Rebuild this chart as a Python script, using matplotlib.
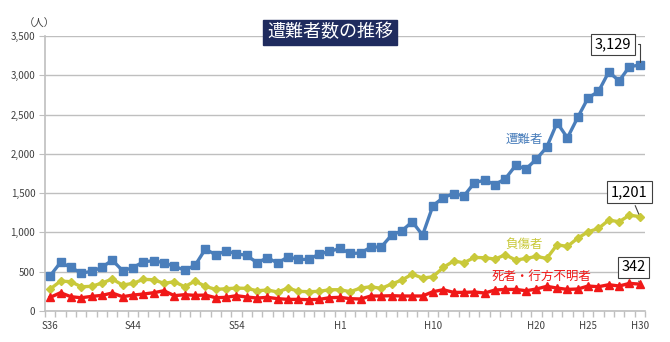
import numpy as np
import matplotlib
matplotlib.use("Agg")
import matplotlib.pyplot as plt

plt.rcParams['font.family'] = ['Noto Sans CJK JP', 'DejaVu Sans']

# S36 (1961) .. H30 (2018)
years = list(range(1961, 2019))
tick_idx = [0, 8, 18, 28, 37, 47, 52, 57]
tick_lbl = ["S36", "S44", "S54", "H1", "H10", "H20", "H25", "H30"]

# 遭難者
victims = [449, 619, 555, 483, 504, 555, 648, 513, 551, 627,
           640, 614, 568, 521, 580, 788, 716, 763, 729, 708,
           614, 678, 610, 691, 657, 657, 725, 758, 797, 733,
           737, 814, 814, 966, 1021, 1136, 966, 1341, 1444, 1494,
           1465, 1631, 1666, 1609, 1684, 1853, 1808, 1933, 2085, 2396,
           2204, 2465, 2713, 2794, 3043, 2929, 3111, 3129]
# 負傷者
injured = [280, 381, 373, 309, 314, 356, 407, 330, 352, 403,
           398, 352, 373, 309, 381, 314, 275, 284, 292, 288,
           258, 267, 242, 292, 250, 246, 250, 271, 271, 246,
           292, 309, 288, 343, 394, 470, 419, 436, 555, 636,
           614, 682, 678, 661, 716, 648, 669, 695, 669, 843,
           822, 928, 1008, 1051, 1157, 1136, 1220, 1201]
# 死者・行方不明者
dead = [174, 233, 182, 169, 186, 199, 229, 182, 203, 216,
        233, 258, 195, 208, 199, 203, 169, 174, 195, 178,
        165, 174, 157, 148, 148, 144, 148, 169, 174, 157,
        153, 191, 191, 195, 191, 191, 191, 246, 271, 237,
        237, 242, 229, 267, 275, 275, 258, 280, 314, 292,
        275, 280, 318, 309, 335, 318, 352, 342]

c_blue = "#4A7EBB"
c_yel = "#C9C93A"
c_red = "#F01818"
grid_c = "#BFBFBF"
txt_c = "#404040"

fig = plt.figure(figsize=(6.7, 3.42), dpi=100)
ax = fig.add_axes([0.0672, 0.0906, 0.8955, 0.8041])

x = np.arange(len(years))
ax.plot(x, victims, color=c_blue, lw=2.4, marker="s", ms=5.5, zorder=3)
ax.plot(x, injured, color=c_yel, lw=2.4, marker="D", ms=4.5, zorder=3)
ax.plot(x, dead, color=c_red, lw=2.4, marker="^", ms=5.5, zorder=3)

ax.set_xlim(-0.5, len(years) - 0.5)
ax.set_ylim(0, 3500)
ax.set_yticks(range(0, 3501, 500))
ax.set_yticklabels([f"{v:,}" for v in range(0, 3501, 500)])
ax.yaxis.grid(True, color=grid_c, lw=1)
ax.set_axisbelow(True)

ax.set_xticks(tick_idx)
ax.set_xticklabels(tick_lbl)
ax.set_xticks(np.arange(-0.5, len(years), 1), minor=True)
ax.tick_params(axis="x", which="major", length=0, labelsize=7, colors=txt_c, pad=7)
ax.tick_params(axis="x", which="minor", length=4, color=grid_c, width=1)
ax.tick_params(axis="y", length=4, color=grid_c, labelsize=7, labelcolor=txt_c, pad=3)

for s in ["top", "right"]:
    ax.spines[s].set_visible(False)
for s in ["left", "bottom"]:
    ax.spines[s].set_color(grid_c)
    ax.spines[s].set_linewidth(1.2)

fig.text(0.036, 0.93, "（人）", fontsize=7.5, color=txt_c, ha="left", va="center")

# title box
fig.text(0.493, 0.905, "遭難者数の推移", fontsize=13, color="white", ha="center", va="center",
         bbox=dict(boxstyle="square,pad=0.22", fc="#1F2B5E", ec="#1F2B5E"))

# series labels
ax.text(45.8, 2180, "遭難者", color=c_blue, fontsize=9, ha="center", va="center")
ax.text(45.8, 850, "負傷者", color=c_yel, fontsize=9, ha="center", va="center")
ax.text(47.5, 440, "死者・行方不明者", color=c_red, fontsize=9, ha="center", va="center")

# callouts
box = dict(boxstyle="square,pad=0.25", fc="white", ec="#404040", lw=0.8)
ax.annotate(f"{victims[-1]:,}", xy=(57, victims[-1]), xytext=(54.4, 3392),
            fontsize=10.5, ha="center", va="center", bbox=box,
            arrowprops=dict(arrowstyle="-", color="#404040", lw=0.8,
                            connectionstyle="angle,angleA=0,angleB=90,rad=0"))
ax.annotate(f"{injured[-1]:,}", xy=(57, injured[-1]), xytext=(56.0, 1515),
            fontsize=10.5, ha="center", va="center", bbox=box,
            arrowprops=dict(arrowstyle="-", color="#404040", lw=0.8))
ax.annotate(f"{dead[-1]:,}", xy=(57, dead[-1]), xytext=(56.4, 554),
            fontsize=10.5, ha="center", va="center", bbox=box,
            arrowprops=dict(arrowstyle="-", color="#404040", lw=0.8))

fig.savefig("out.png", dpi=100)
